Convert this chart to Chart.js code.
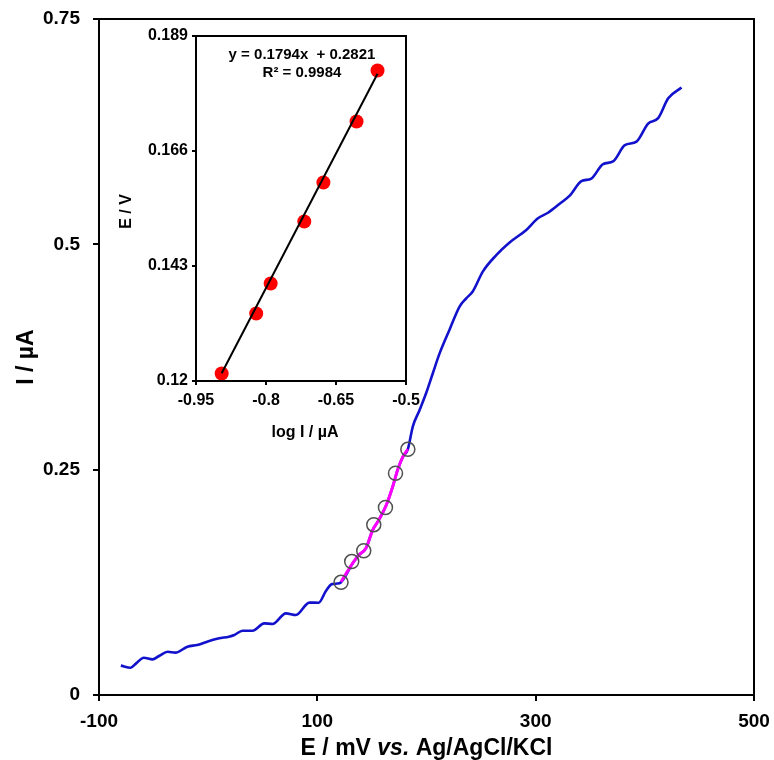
<!DOCTYPE html>
<html>
<head>
<meta charset="utf-8">
<script src="https://cdn.jsdelivr.net/npm/chart.js@4.4.0/dist/chart.umd.min.js"></script>
<style>
  html, body { margin: 0; padding: 0; background: #ffffff; }
  #wrap { position: relative; width: 774px; height: 760px; overflow: hidden; }
  #main { position: absolute; left: 0; top: 0; }
  #inset { position: absolute; left: 110px; top: 20px; }
</style>
</head>
<body>
<div id="wrap">
  <canvas id="main" width="774" height="760"></canvas>
  <canvas id="inset" width="330" height="430"></canvas>
</div>
<script>
// Polarization curve: potential (mV vs. Ag/AgCl/KCl) and current (µA)
const tracePotential = [-80, -71, -66, -59, -51, -45, -37, -30, -19, -10, 1, 10, 19, 24, 31.5, 40.7,
  51.4, 59, 71.2, 80.4, 92.7, 101.2, 108, 113.4, 120.2, 132.3, 137.8, 144.6, 150.7, 156.2, 162.9,
  169, 173.6, 178.2, 182.9, 187.5, 193.6, 199.7, 205.8, 212, 221, 230.3, 236.4, 242.5, 251.7,
  263.9, 276.1, 291.4, 302.1, 311.3, 322, 331.2, 341.9, 351, 361.7, 370.9, 381.7, 392.4, 403,
  412.2, 421.4, 433.6];
const traceCurrent = [0.0326, 0.0303, 0.0351, 0.0414, 0.0395, 0.0433, 0.048, 0.047, 0.0536, 0.0555,
  0.0599, 0.0629, 0.0647, 0.0666, 0.0713, 0.0713, 0.0795, 0.0788, 0.0906, 0.0888, 0.1025, 0.1024,
  0.1157, 0.123, 0.1239, 0.146, 0.155, 0.163, 0.183, 0.194, 0.210, 0.231, 0.250, 0.264, 0.2726,
  0.298, 0.316, 0.335, 0.357, 0.379, 0.405, 0.431, 0.440, 0.448, 0.470, 0.488, 0.502, 0.516,
  0.529, 0.535, 0.545, 0.554, 0.570, 0.573, 0.589, 0.592, 0.610, 0.614, 0.634, 0.640, 0.662, 0.674];

// Linear (Tafel) region of the curve
const tafelPotential = [121.7, 132.3, 137.8, 144.6, 150.7, 156.2, 162.9, 169, 173.6, 178.2, 182.9];
const tafelCurrent = [0.1257, 0.146, 0.155, 0.163, 0.183, 0.194, 0.210, 0.231, 0.250, 0.264, 0.2726];

// Selected points in that region
const markerPotential = [121.7, 131.5, 142.5, 151.7, 162.4, 171.6, 182.9];
const markerCurrent = [0.125, 0.148, 0.160, 0.189, 0.208, 0.246, 0.2726];

// Main axes ticks
const mainXTicks = [-100, 100, 300, 500];
const mainXLabels = ['-100', '100', '300', '500'];
const mainYTicks = [0, 0.25, 0.5, 0.75];
const mainYLabels = ['0', '0.25', '0.5', '0.75'];

// Inset: E (V) against log I (µA)
const logCurrent = [-0.895, -0.821, -0.790, -0.718, -0.677, -0.606, -0.561];
const potentialV = [0.1215, 0.1335, 0.1395, 0.1519, 0.1597, 0.1719, 0.1821];
const fitSlope = 0.1794;
const fitIntercept = 0.2821;
const fitRange = [-0.895, -0.561];
const fitEquation = 'y = 0.1794x  + 0.2821';
const fitR2 = 'R² = 0.9984';

const insetXTicks = [-0.95, -0.8, -0.65, -0.5];
const insetXLabels = ['-0.95', '-0.8', '-0.65', '-0.5'];
const insetYTicks = [0.12, 0.143, 0.166, 0.189];
const insetYLabels = ['0.12', '0.143', '0.166', '0.189'];

const FONT = '"Liberation Sans", Arial, sans-serif';

const pairs = (xs, ys) => xs.map((x, i) => ({ x: x, y: ys[i] }));

function fixedTicks(values) {
  return function (scale) { scale.ticks = values.map(v => ({ value: v })); };
}

// Fixed axis thickness; the layout padding alone sets the plot margins
function fixedSize(prop, size) {
  return function (scale) {
    scale[prop] = size;
    scale.paddingTop = 0;
    scale.paddingBottom = 0;
    scale.paddingLeft = 0;
    scale.paddingRight = 0;
  };
}

// Frame around the plot area
const framePlugin = {
  id: 'frame',
  afterDraw(chart, args, opts) {
    const { ctx, chartArea: a } = chart;
    ctx.save();
    ctx.strokeStyle = '#000';
    ctx.lineWidth = opts.width || 2;
    ctx.strokeRect(a.left, a.top, a.right - a.left, a.bottom - a.top);
    ctx.restore();
  }
};

// Axis titles of the main chart (x title mixes upright and italic text)
const mainTitles = {
  id: 'mainTitles',
  afterDraw(chart) {
    const { ctx, chartArea: a } = chart;
    ctx.save();
    ctx.fillStyle = '#000';
    ctx.textBaseline = 'alphabetic';
    const parts = [
      { t: 'E / mV ', f: 'bold 23px ' + FONT },
      { t: 'vs.', f: 'italic bold 23px ' + FONT },
      { t: ' Ag/AgCl/KCl', f: 'bold 23px ' + FONT }
    ];
    let total = 0;
    parts.forEach(p => { ctx.font = p.f; p.w = ctx.measureText(p.t).width; total += p.w; });
    let x = (a.left + a.right) / 2 - total / 2;
    ctx.textAlign = 'left';
    parts.forEach(p => { ctx.font = p.f; ctx.fillText(p.t, x, 755); x += p.w; });

    ctx.translate(33, (a.top + a.bottom) / 2);
    ctx.rotate(-Math.PI / 2);
    ctx.textAlign = 'center';
    ctx.font = 'bold 23px ' + FONT;
    ctx.fillText('I / µA', 0, 0);
    ctx.restore();
  }
};

new Chart(document.getElementById('main'), {
  type: 'scatter',
  data: {
    datasets: [
      {
        data: pairs(markerPotential, markerCurrent),
        showLine: false,
        pointRadius: 7,
        pointHoverRadius: 7,
        pointBackgroundColor: 'rgba(0,0,0,0)',
        pointBorderColor: '#505050',
        pointBorderWidth: 1.5,
        order: 0
      },
      {
        data: pairs(tafelPotential, tafelCurrent),
        showLine: true,
        borderColor: '#ff00ff',
        borderWidth: 3,
        pointRadius: 0,
        cubicInterpolationMode: 'monotone',
        order: 1
      },
      {
        data: pairs(tracePotential, traceCurrent),
        showLine: true,
        borderColor: '#1212cc',
        borderWidth: 2.6,
        pointRadius: 0,
        cubicInterpolationMode: 'monotone',
        order: 2
      }
    ]
  },
  options: {
    responsive: false,
    animation: false,
    events: [],
    layout: { padding: { left: 0, top: 19, right: 20, bottom: 0 } },
    plugins: { legend: { display: false }, tooltip: { enabled: false }, frame: { width: 2 } },
    scales: {
      x: {
        type: 'linear',
        min: -100,
        max: 500,
        afterBuildTicks: fixedTicks(mainXTicks),
        afterFit: fixedSize('height', 65),
        border: { display: false },
        grid: { drawOnChartArea: false, drawTicks: true, tickLength: 6, color: '#000', lineWidth: 2 },
        ticks: {
          color: '#000',
          font: { family: FONT, size: 19, weight: 'bold' },
          padding: 9,
          maxRotation: 0,
          callback: (v) => mainXLabels[mainXTicks.indexOf(v)]
        }
      },
      y: {
        type: 'linear',
        min: 0,
        max: 0.75,
        afterBuildTicks: fixedTicks(mainYTicks),
        afterFit: fixedSize('width', 99),
        border: { display: false },
        grid: { drawOnChartArea: false, drawTicks: true, tickLength: 6, color: '#000', lineWidth: 2 },
        ticks: {
          color: '#000',
          font: { family: FONT, size: 19, weight: 'bold' },
          padding: 13,
          callback: (v) => mainYLabels[mainYTicks.indexOf(v)]
        }
      }
    }
  },
  plugins: [framePlugin, mainTitles]
});

// Inset titles and regression label
const insetTitles = {
  id: 'insetTitles',
  afterDraw(chart) {
    const { ctx, chartArea: a } = chart;
    ctx.save();
    ctx.fillStyle = '#000';
    ctx.textAlign = 'center';
    ctx.textBaseline = 'alphabetic';
    ctx.font = 'bold 15px ' + FONT;
    const cx = (a.left + a.right) / 2;
    ctx.fillText(fitEquation, cx + 1, 39);
    ctx.fillText(fitR2, cx + 1, 57);

    ctx.font = 'bold 16px ' + FONT;
    ctx.fillText('log I / µA', cx + 4, 417);

    ctx.translate(21, (a.top + a.bottom) / 2 + 3);
    ctx.rotate(-Math.PI / 2);
    ctx.fillText('E / V', 0, 0);
    ctx.restore();
  }
};

const fitLine = fitRange.map(x => ({ x: x, y: fitSlope * x + fitIntercept }));

new Chart(document.getElementById('inset'), {
  type: 'scatter',
  data: {
    datasets: [
      {
        data: pairs(logCurrent, potentialV),
        showLine: false,
        pointRadius: 7,
        pointHoverRadius: 7,
        pointBackgroundColor: '#ff0000',
        pointBorderColor: '#ff0000',
        pointBorderWidth: 0,
        order: 1
      },
      {
        data: fitLine,
        showLine: true,
        borderColor: '#000',
        borderWidth: 2,
        pointRadius: 0,
        order: 0
      }
    ]
  },
  options: {
    responsive: false,
    animation: false,
    events: [],
    layout: { padding: { left: 0, top: 16, right: 34, bottom: 0 } },
    plugins: { legend: { display: false }, tooltip: { enabled: false }, frame: { width: 2 } },
    scales: {
      x: {
        type: 'linear',
        min: -0.95,
        max: -0.5,
        afterBuildTicks: fixedTicks(insetXTicks),
        afterFit: fixedSize('height', 69),
        border: { display: false },
        grid: { drawOnChartArea: false, drawTicks: true, tickLength: 4, color: '#000', lineWidth: 2 },
        ticks: {
          color: '#000',
          font: { family: FONT, size: 16, weight: 'bold' },
          padding: 6,
          maxRotation: 0,
          callback: (v) => insetXLabels[insetXTicks.indexOf(v)]
        }
      },
      y: {
        type: 'linear',
        min: 0.12,
        max: 0.189,
        afterBuildTicks: fixedTicks(insetYTicks),
        afterFit: fixedSize('width', 86),
        border: { display: false },
        grid: { drawOnChartArea: false, drawTicks: true, tickLength: 4, color: '#000', lineWidth: 2 },
        ticks: {
          color: '#000',
          font: { family: FONT, size: 16, weight: 'bold' },
          padding: 4,
          callback: (v) => insetYLabels[insetYTicks.indexOf(v)]
        }
      }
    }
  },
  plugins: [framePlugin, insetTitles]
});
</script>
</body>
</html>
